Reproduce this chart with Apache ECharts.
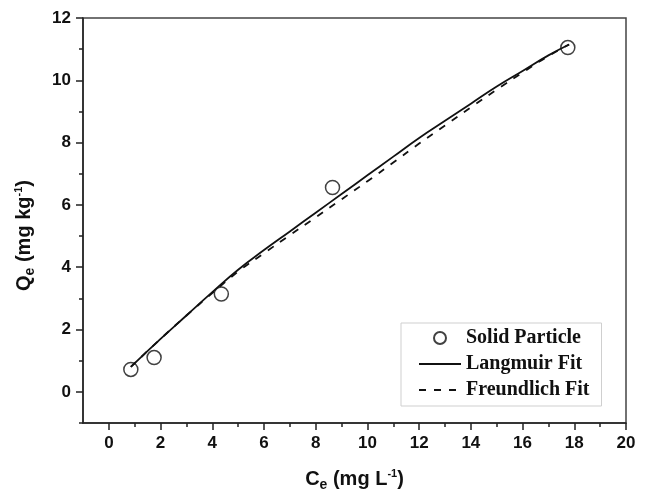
<!DOCTYPE html>
<html lang="en">
<head>
    <meta charset="utf-8">
    <script src="https://cdn.jsdelivr.net/npm/echarts@6.0.0/dist/echarts.min.js"></script>
    <style>
        html, body { margin: 0; padding: 0; background: #fff; }
        #chart { width: 647px; height: 495px; }
    </style>
</head>
<body>
<div id="chart"></div>
<script type="text/javascript">

// measured points
var solidC = [0.85, 1.75, 4.35, 8.65, 17.75];
var solidQ = [0.72, 1.1, 3.14, 6.56, 11.05];

// fit curves
var langC = [0.85, 2, 3, 4, 5, 6, 7, 8, 9, 10, 11, 12, 13, 14, 15, 16, 17, 17.8];
var langQ = [0.8, 1.7, 2.45, 3.2, 3.92, 4.55, 5.15, 5.75, 6.35, 6.95, 7.55, 8.15, 8.7, 9.25, 9.8, 10.3, 10.8, 11.15];
var freuC = [0.85, 2, 3, 4, 5, 6, 7, 8, 9, 10, 11, 12, 13, 14, 15, 16, 17, 17.8];
var freuQ = [0.8, 1.7, 2.45, 3.17, 3.86, 4.45, 5.03, 5.6, 6.18, 6.76, 7.36, 7.97, 8.55, 9.13, 9.7, 10.25, 10.78, 11.15];

var xMajor = [0, 2, 4, 6, 8, 10, 12, 14, 16, 18, 20];
var xMinor = [1, 3, 5, 7, 9, 11, 13, 15, 17, 19];
var yMajor = [0, 2, 4, 6, 8, 10, 12];
var yMinor = [-1, 1, 3, 5, 7, 9, 11];

function pairs(xs, ys) {
    return xs.map(function (x, i) { return [x, ys[i]]; });
}

var axisColor = '#222';
var tickFont = { fontFamily: 'Liberation Sans', fontWeight: 'bold', fontSize: 17, color: '#111' };
var nameRich = {
    n: { fontFamily: 'Liberation Sans', fontWeight: 'bold', fontSize: 20, color: '#111' },
    sub: { fontFamily: 'Liberation Sans', fontWeight: 'bold', fontSize: 14, color: '#111', padding: [11, 0, 0, 0] },
    sup: { fontFamily: 'Liberation Sans', fontWeight: 'bold', fontSize: 11, color: '#111', padding: [0, 0, 11, 0] }
};

var chart = echarts.init(document.getElementById('chart'));
var option = {
    animation: false,
    backgroundColor: '#fff',
    grid: {
        left: 83, top: 18, right: 21, bottom: 72,
        outerBoundsMode: 'none',
        show: true, borderColor: '#444', borderWidth: 1.5
    },
    legend: {
        orient: 'vertical',
        left: 401, top: 323,
        padding: [5, 12, 6, 17],
        borderColor: '#cfcfcf', borderWidth: 1,
        itemWidth: 42, itemHeight: 12, itemGap: 6,
        textStyle: { fontFamily: 'Liberation Serif', fontWeight: 'bold', fontSize: 20, lineHeight: 20, color: '#111' },
        data: [
            { name: 'Solid Particle' },
            { name: 'Langmuir Fit', itemStyle: { opacity: 0 } },
            { name: 'Freundlich Fit', itemStyle: { opacity: 0 } }
        ]
    },
    xAxis: [{
        type: 'value', min: -1, max: 20, position: 'bottom',
        name: '{n|C}{sub|e}{n| (mg L}{sup|-1}{n|)}',
        nameLocation: 'middle', nameGap: 44,
        nameTextStyle: { rich: nameRich },
        axisLine: { show: true, onZero: false, lineStyle: { color: axisColor, width: 1.5 } },
        axisTick: { show: true, customValues: xMajor, length: 7, lineStyle: { color: axisColor, width: 1.5 } },
        axisLabel: Object.assign({ customValues: xMajor, margin: 12 }, tickFont),
        splitLine: { show: false }
    }, {
        type: 'value', min: -1, max: 20, position: 'bottom',
        axisLine: { show: false, onZero: false },
        axisTick: { show: true, customValues: xMinor, length: 4, lineStyle: { color: axisColor, width: 1.5 } },
        axisLabel: { show: false },
        splitLine: { show: false }
    }],
    yAxis: [{
        type: 'value', min: -1, max: 12, position: 'left',
        name: '{n|Q}{sub|e}{n| (mg kg}{sup|-1}{n|)}',
        nameLocation: 'middle', nameGap: 46, nameRotate: 90,
        nameTextStyle: { rich: nameRich, padding: [0, 30, 0, 0] },
        axisLine: { show: true, onZero: false, lineStyle: { color: axisColor, width: 1.5 } },
        axisTick: { show: true, customValues: yMajor, length: 7, lineStyle: { color: axisColor, width: 1.5 } },
        axisLabel: Object.assign({ customValues: yMajor, margin: 12 }, tickFont),
        splitLine: { show: false }
    }, {
        type: 'value', min: -1, max: 12, position: 'left',
        axisLine: { show: false, onZero: false },
        axisTick: { show: true, customValues: yMinor, length: 4, lineStyle: { color: axisColor, width: 1.5 } },
        axisLabel: { show: false },
        splitLine: { show: false }
    }],
    series: [{
        name: 'Solid Particle',
        type: 'scatter',
        symbol: 'circle', symbolSize: 14,
        itemStyle: { color: 'rgba(255,255,255,0)', borderColor: '#111', borderWidth: 1.5 },
        data: pairs(solidC, solidQ),
        z: 3
    }, {
        name: 'Langmuir Fit',
        type: 'line', smooth: true, symbol: 'none',
        lineStyle: { color: '#111', width: 1.8, type: 'solid' },
        itemStyle: { color: '#111' },
        data: pairs(langC, langQ)
    }, {
        name: 'Freundlich Fit',
        type: 'line', smooth: true, symbol: 'none',
        lineStyle: { color: '#111', width: 1.8, type: [7, 8] },
        itemStyle: { color: '#111' },
        data: pairs(freuC, freuQ)
    }]
};
chart.setOption(option);

</script>
</body>
</html>
